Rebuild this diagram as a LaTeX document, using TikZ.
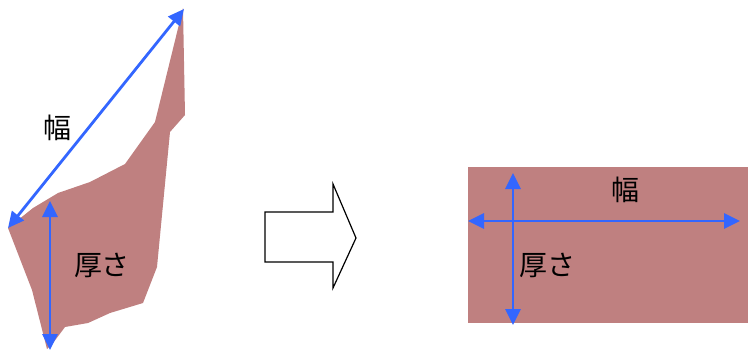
\documentclass[tikz,border=0pt]{standalone}
\usepackage{fontspec}
\newfontfamily\jpfont{Noto Sans CJK JP}
\usetikzlibrary{arrows.meta}
\definecolor{mattone}{HTML}{BF8080}
\definecolor{blu}{HTML}{3366FF}

\begin{document}
\begin{tikzpicture}[x=1pt,y=-1pt,
    quota/.style={blu, line width=2.8pt,
      {Triangle[length=16pt,width=15pt]}-{Triangle[length=16pt,width=15pt]}},
    etichetta/.style={font=\jpfont\fontsize{28}{32}\selectfont, inner sep=0pt}]
    \useasboundingbox (0,0) rectangle (748,349);
    % Sezione irregolare (prima)
    \fill[mattone] (183,8) -- (185,115) -- (170,132) -- (157,267) -- (143,303)
      -- (110,313) -- (88,323) -- (65,327) -- (53,343) -- (47,349)
      -- (32,290) -- (8,228) -- (33,208) -- (58,193) -- (90,182)
      -- (125,164) -- (155,122) -- cycle;
    % Quote sezione irregolare
    \coordinate (w1) at (8,228);
    \coordinate (w2) at (184,9);
    \coordinate (t1) at (50,201);
    \coordinate (t2) at (50,350);
    \draw[quota] (w1) -- (w2);
    \draw[quota] (t1) -- (t2);
    \node[etichetta] (larg1) at (57,128) {幅};
    \node[etichetta] (spes1) at (102,265) {厚さ};
    % Freccia
    \draw[line width=1.2pt, line join=miter]
      (265,212) -- (333,212) -- (333,184) -- (356,238) -- (333,288)
      -- (333,262) -- (265,262) -- cycle;
    % Sezione rettangolare (dopo)
    \fill[mattone] (468,167) rectangle (748,323);
    % Quote sezione rettangolare
    \coordinate (w3) at (468,221);
    \coordinate (w4) at (740,221);
    \coordinate (t3) at (513,173);
    \coordinate (t4) at (513,325);
    \draw[quota] (w3) -- (w4);
    \draw[quota] (t3) -- (t4);
    \node[etichetta] (larg2) at (625,190) {幅};
    \node[etichetta] (spes2) at (547,265) {厚さ};
\end{tikzpicture}
\end{document}
